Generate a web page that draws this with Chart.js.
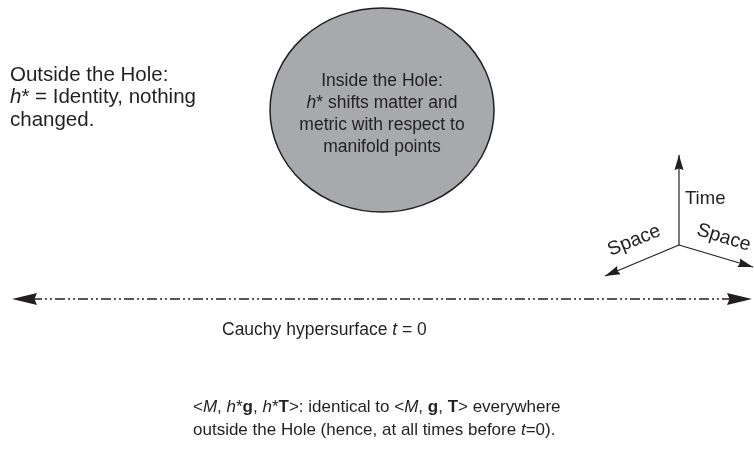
<!DOCTYPE html>
<html>
<head>
<meta charset="utf-8">
<script src="https://cdn.jsdelivr.net/npm/chart.js@4"></script>
<style>
  body { margin: 0; background: #fff; }
  #wrap { width: 754px; height: 458px; }
</style>
</head>
<body>
<div id="wrap"><canvas id="holeChart"></canvas></div>
<script>
// diagram coordinates are in page units (x right, y down)
var hyperX = [12, 752];
var hyperY = [299, 299];
var axisOrigin = [679, 245];
var axisEnds = [[679, 155], [605, 276], [753, 267]];
var axisNames = ['Time', 'Space', 'Space'];
var holeCenter = [382, 110];
var holeRadius = [112, 102];

var leftLines = [
    [['Outside the Hole:', '']],
    [['h', 'i'], ['* = Identity, nothing', '']],
    [['changed.', '']]
];
var holeLines = [
    [['Inside the Hole:', '']],
    [['h', 'i'], ['* shifts matter and', '']],
    [['metric with respect to', '']],
    [['manifold points', '']]
];
var cauchyLine = [['Cauchy hypersurface ', ''], ['t', 'i'], [' = 0', '']];
var bottomLines = [
    [['<', ''], ['M', 'i'], [', ', ''], ['h', 'i'], ['*', ''], ['g', 'b'], [', ', ''], ['h', 'i'], ['*', ''], ['T', 'b'],
     ['>: identical to <', ''], ['M', 'i'], [', ', ''], ['g', 'b'], [', ', ''], ['T', 'b'], ['> everywhere', '']],
    [['outside the Hole (hence, at all times before ', ''], ['t', 'i'], ['=0).', '']]
];

var INK = '#231f20';
var FONT = '"Liberation Sans", Arial, sans-serif';

function fontFor(style, size) {
    var f = '';
    if (style === 'i') f = 'italic ';
    if (style === 'b') f = 'bold ';
    return f + size + 'px ' + FONT;
}

function lineWidth(ctx, runs, size) {
    var w = 0;
    runs.forEach(function (r) { ctx.font = fontFor(r[1], size); w += ctx.measureText(r[0]).width; });
    return w;
}

function drawRuns(ctx, runs, x, y, size, align) {
    var w = lineWidth(ctx, runs, size);
    var cx = align === 'center' ? x - w / 2 : x;
    ctx.textAlign = 'left';
    ctx.textBaseline = 'alphabetic';
    runs.forEach(function (r) {
        ctx.font = fontFor(r[1], size);
        ctx.fillText(r[0], cx, y);
        cx += ctx.measureText(r[0]).width;
    });
}

function arrowHead(ctx, x0, y0, x1, y1, len, half) {
    var a = Math.atan2(y1 - y0, x1 - x0);
    ctx.save();
    ctx.translate(x1, y1);
    ctx.rotate(a);
    ctx.beginPath();
    ctx.moveTo(0, 0);
    ctx.lineTo(-len, -half);
    ctx.lineTo(-len * 0.9, 0);
    ctx.lineTo(-len, half);
    ctx.closePath();
    ctx.fill();
    ctx.restore();
}

var diagramPlugin = {
    id: 'diagram',
    beforeDatasetsDraw: function (chart) {
        var ctx = chart.ctx, xs = chart.scales.x, ys = chart.scales.y;
        var cx = xs.getPixelForValue(holeCenter[0]);
        var cy = ys.getPixelForValue(holeCenter[1]);
        var rx = xs.getPixelForValue(holeCenter[0] + holeRadius[0]) - cx;
        var ry = ys.getPixelForValue(holeCenter[1] + holeRadius[1]) - cy;
        ctx.save();
        ctx.beginPath();
        ctx.ellipse(cx, cy, Math.abs(rx), Math.abs(ry), 0, 0, Math.PI * 2);
        ctx.fillStyle = '#a7a9ac';
        ctx.fill();
        ctx.lineWidth = 1.5;
        ctx.strokeStyle = INK;
        ctx.stroke();
        ctx.restore();
    },
    afterDatasetsDraw: function (chart) {
        var ctx = chart.ctx, xs = chart.scales.x, ys = chart.scales.y;
        function px(p) { return [xs.getPixelForValue(p[0]), ys.getPixelForValue(p[1])]; }
        ctx.save();
        ctx.fillStyle = INK;

        // arrowheads on the hypersurface
        var a = px([hyperX[0], hyperY[0]]), b = px([hyperX[1], hyperY[1]]);
        arrowHead(ctx, b[0], b[1], a[0], a[1], 25, 6);
        arrowHead(ctx, a[0], a[1], b[0], b[1], 25, 6);

        // arrowheads on the space-time axes
        var o = px(axisOrigin);
        axisEnds.forEach(function (e) {
            var p = px(e);
            arrowHead(ctx, o[0], o[1], p[0], p[1], 15, 4.5);
        });

        // text
        leftLines.forEach(function (l, i) { drawRuns(ctx, l, 10, 80.5 + i * 22.5, 20.5); });
        holeLines.forEach(function (l, i) { drawRuns(ctx, l, 382, 86 + i * 22, 17.5, 'center'); });
        drawRuns(ctx, cauchyLine, 222, 335, 17.5);
        bottomLines.forEach(function (l, i) { drawRuns(ctx, l, 193, 412 + i * 22.5, 17); });

        // axis labels
        drawRuns(ctx, [[axisNames[0], '']], 685, 204, 18.5);
        ctx.save();
        ctx.translate(634, 240);
        ctx.rotate(-22 * Math.PI / 180);
        drawRuns(ctx, [[axisNames[1], '']], 0, 6, 19.5, 'center');
        ctx.restore();
        ctx.save();
        ctx.translate(724, 237);
        ctx.rotate(17 * Math.PI / 180);
        drawRuns(ctx, [[axisNames[2], '']], 0, 6, 19.5, 'center');
        ctx.restore();
        ctx.restore();
    }
};

function seg(p, q) { return [{ x: p[0], y: p[1] }, { x: q[0], y: q[1] }]; }

var ctx = document.getElementById('holeChart').getContext('2d');
var holeChart = new Chart(ctx, {
    type: 'scatter',
    data: {
        datasets: [{
            label: 'Cauchy hypersurface',
            data: seg([hyperX[0] + 20, hyperY[0]], [hyperX[1] - 20, hyperY[1]]),
            showLine: true,
            borderColor: INK,
            borderWidth: 1.5,
            borderDash: [10, 3, 2, 3, 2, 3],
            pointRadius: 0
        }].concat(axisEnds.map(function (e, i) {
            return {
                label: axisNames[i],
                data: seg(axisOrigin, e),
                showLine: true,
                borderColor: INK,
                borderWidth: 1.2,
                pointRadius: 0
            };
        }))
    },
    options: {
        responsive: true,
        maintainAspectRatio: false,
        animation: false,
        layout: { padding: 0 },
        plugins: { legend: { display: false }, tooltip: { enabled: false } },
        scales: {
            x: { type: 'linear', min: 0, max: 754, display: false },
            y: { type: 'linear', min: 0, max: 458, reverse: true, display: false }
        }
    },
    plugins: [diagramPlugin]
});
</script>
</body>
</html>
